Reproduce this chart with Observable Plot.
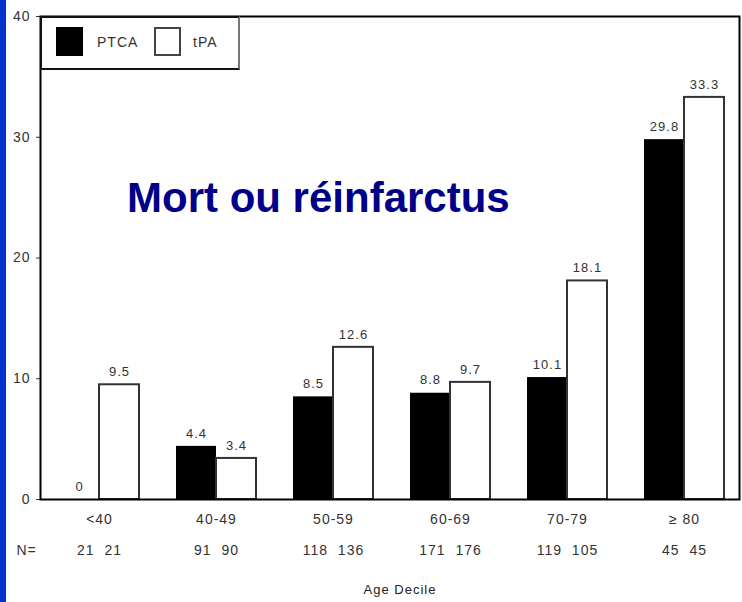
<!DOCTYPE html>
<html>
<head>
<meta charset="utf-8">
<script src="https://cdn.jsdelivr.net/npm/d3@7"></script>
<script src="https://cdn.jsdelivr.net/npm/@observablehq/plot@0.6"></script>
<style>
  body { margin: 0; background: #fff; }
  #wrap { position: relative; width: 742px; height: 602px; overflow: hidden; font-family: "Liberation Sans", Arial, sans-serif; }
  #wrap svg { position: absolute; left: 0; top: 0; }
  #wrap svg text { letter-spacing: 1px; }
  #strip { position: absolute; left: 0; top: 0; width: 6px; height: 602px; background: #0033cc; }
  #title { position: absolute; left: 127px; top: 177px; font-size: 42px; line-height: 1; font-weight: bold; color: #000088; white-space: nowrap; }
  #legend { position: absolute; left: 40px; top: 16px; width: 196px; height: 50px; border: 2px solid #111; border-right-color: #777; background: #fff; }
  .sw { position: absolute; top: 9px; width: 27px; height: 29px; box-sizing: border-box; }
  .lt { position: absolute; top: 17px; font-size: 14px; color: #333; letter-spacing: 1px; line-height: 1; }
</style>
</head>
<body>
<div id="wrap">
  <div id="chart"></div>
  <div id="strip"></div>
  <div id="title">Mort ou réinfarctus</div>
  <div id="legend"></div>
</div>
<script>
const categories = ["<40", "40-49", "50-59", "60-69", "70-79", "≥ 80"];
const ptca = [0, 4.4, 8.5, 8.8, 10.1, 29.8];
const tpa = [9.5, 3.4, 12.6, 9.7, 18.1, 33.3];
const nPtca = [21, 91, 118, 171, 119, 45];
const nTpa = [21, 90, 136, 176, 105, 45];
const yTicks = [0, 10, 20, 30, 40];
const seriesNames = ["PTCA", "tPA"];

const rows = categories.map((c, i) => ({
  c, ptca: ptca[i], tpa: tpa[i], n: `${nPtca[i]}  ${nTpa[i]}`
}));

const chart = Plot.plot({
  width: 742,
  height: 602,
  marginLeft: 40,
  marginRight: 3,
  marginTop: 16,
  marginBottom: 103,
  style: { fontFamily: "'Liberation Sans', Arial, sans-serif", fontSize: "14px", color: "#333", background: "transparent" },
  x: { domain: categories, paddingInner: 0.32, paddingOuter: 0.136, align: 0.5625, tickSize: 0, tickPadding: 15, label: null },
  y: { domain: [0, 40], ticks: yTicks, tickSize: 4, tickPadding: 6, label: null, tickFormat: d => String(d) },
  marks: [
    Plot.barY(rows, { x: "c", y: "ptca", fill: "#000", insetRight: 40 }),
    Plot.barY(rows, { x: "c", y: "tpa", fill: "#fff", stroke: "#333", strokeWidth: 2, insetLeft: 40 }),
    Plot.text(rows, { x: "c", y: "ptca", text: d => String(d.ptca), dx: -20, dy: -13, fontSize: 13, fill: "#333" }),
    Plot.text(rows, { x: "c", y: "tpa", text: d => String(d.tpa), dx: 20, dy: -13, fontSize: 13, fill: "#333" }),
    Plot.text(rows, { x: "c", text: "n", frameAnchor: "bottom", dy: 55, fontSize: 14, fill: "#333" }),
    Plot.text(["N="], { frameAnchor: "bottom-left", textAnchor: "start", dx: -24, dy: 55, fontSize: 14, fill: "#333" }),
    Plot.text(["Age Decile"], { frameAnchor: "bottom", dx: 10, dy: 94, fontSize: 13, fill: "#222" }),
    Plot.frame({ stroke: "#000", strokeWidth: 2 })
  ]
});
document.getElementById("chart").appendChild(chart);

// legend
const legend = document.getElementById("legend");
legend.innerHTML = `
  <div class="sw" style="left:14px;background:#000;"></div>
  <div class="lt" style="left:55px;">${seriesNames[0]}</div>
  <div class="sw" style="left:112px;background:#fff;border:2px solid #444;"></div>
  <div class="lt" style="left:151px;">${seriesNames[1]}</div>`;
</script>
</body>
</html>
